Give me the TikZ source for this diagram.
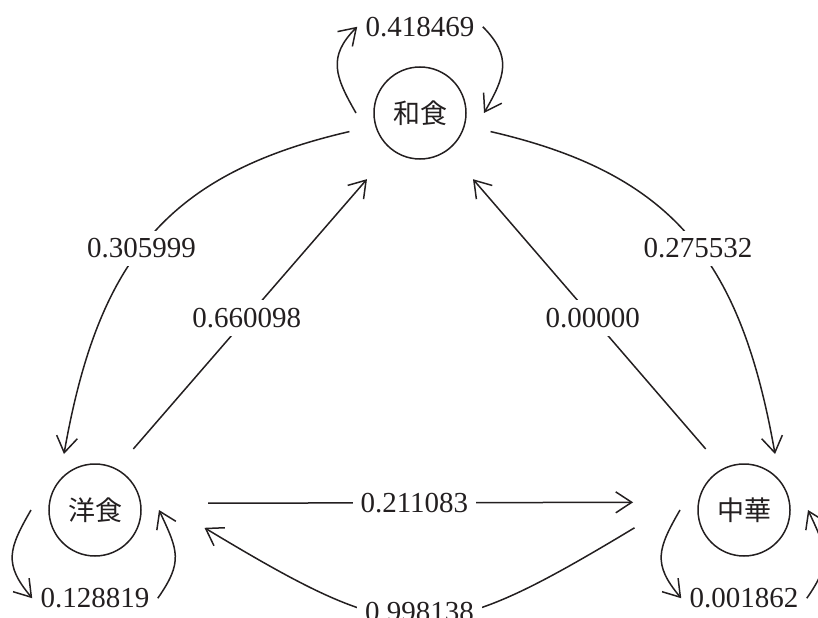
\documentclass[tikz,border=0pt]{standalone}
\usepackage{fontspec}
\setmainfont{Liberation Serif}
\newfontfamily\cjkfont{Noto Sans CJK JP}
\usepackage{tikz}
\usetikzlibrary{positioning, arrows.meta}
\definecolor{cInk}{HTML}{231F20}

\tikzset{
  state/.style={circle, draw=cInk, line width=0.75pt, minimum size=46pt,
                inner sep=0pt, outer sep=9pt, text=cInk,
                font=\fontsize{13.5}{16}\selectfont\cjkfont},
  prob/.style={fill=white, inner sep=4pt, text=cInk,
               font=\fontsize{14.5}{17}\selectfont},
  trans/.style={->, line width=0.75pt, draw=cInk},
}

\begin{document}
\begin{tikzpicture}[x=0.5pt, y=0.5pt, >={Straight Barb[length=8pt, width=10.5pt]}]
  \useasboundingbox (0,0) rectangle (818,617);
  \clip (0,0) rectangle (818,617);
  % states
  \node[state] (wa)  at (420,504) {和食};
  \node[state] (yo)  at (95,107)  {洋食};
  \node[state] (chu) at (744,107) {中華};
  % self-loop labels
  \node[prob, above=2pt of wa]  (pww) {0.418469};
  \node[prob, below=3pt of yo]  (pyy) {0.128819};
  \node[prob, below=3pt of chu] (pcc) {0.001862};
  % self loops
  \draw[trans] (wa.west) to[out=120, in=225, looseness=1.25] (pww.west);
  \draw[trans] (pww.east) to[out=-45, in=60, looseness=1.25] (wa.east);
  \draw[trans] (yo.west) to[out=240, in=130, looseness=1.3] (pyy.west);
  \draw[trans] (pyy.east) to[out=55, in=-65, looseness=1.3] (yo.east);
  \draw[trans] (chu.west) to[out=240, in=130, looseness=1.3] (pcc.west);
  \draw[trans] (pcc.east) to[out=55, in=-65, looseness=1.3] (chu.east);
  % curved transitions
  \draw[trans, shorten <=4.5pt] (wa.195) to[out=193, in=80, looseness=1.15]
    node[prob, pos=0.54] {0.305999} (yo.119);
  \draw[trans, shorten <=4.5pt] (wa.345) to[out=-13, in=100, looseness=1.15]
    node[prob, pos=0.54] {0.275532} (chu.61);
  \draw[trans, shorten <=27pt, shorten >=27pt] (chu.171) to[out=211, in=329, looseness=1.42]
    node[prob] {0.998138} (yo.9);
  % straight transitions
  \draw[trans, shorten <=4.1pt, shorten >=10.4pt] (yo.59) --
    node[prob, pos=0.47] {0.660098} (wa.232);
  \draw[trans, shorten <=4.1pt, shorten >=10.4pt] (chu.121) --
    node[prob, pos=0.47] {0.00000} (wa.308);
  \draw[trans, shorten <=24.7pt, shorten >=23.7pt] (yo.6.3) --
    node[prob, pos=0.49] {0.211083} (chu.173.7);
\end{tikzpicture}
\end{document}
